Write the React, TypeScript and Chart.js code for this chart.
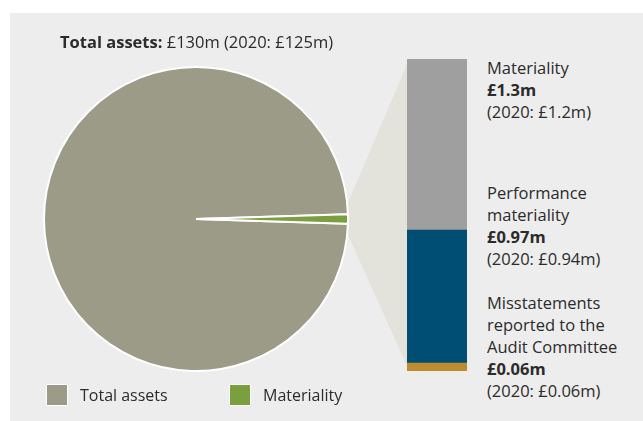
import React, { useEffect, useRef } from "react";
import { Chart, registerables } from "chart.js";

Chart.register(...registerables);

// ---- data ----
const pieLabels = ["Total assets", "Materiality"];
const pieValues = [130, 1.3]; // £m
const pieColors = ["#9c9b88", "#7a9f3e"];

// stacked bar (bottom to top), segment heights as drawn in the picture (not to scale with labels)
const barSeries = ["Misstatements", "Performance materiality", "Materiality"];
const barSegments = [0.033, 0.554, 0.713];
const barColors = ["#c08a2e", "#004e73", "#9f9f9f"];

const titleBold = "Total assets:";
const titleRest = " £130m (2020: £125m)";

const blockLines = [
  ["Materiality"],
  ["Performance", "materiality"],
  ["Misstatements", "reported to the", "Audit Committee"],
];
const blockValues = ["£1.3m", "£0.97m", "£0.06m"];
const blockPrior = ["(2020: £1.2m)", "(2020: £0.94m)", "(2020: £0.06m)"];
const blockTops = [57, 182, 292];

const FONT = "'Open Sans', sans-serif";

export default function App() {
  const pieRef = useRef<HTMLCanvasElement>(null);
  const barRef = useRef<HTMLCanvasElement>(null);

  useEffect(() => {
    const total = pieValues.reduce((a, b) => a + b, 0);
    const halfSlice = ((pieValues[1] / total) * 360) / 2;
    const pie = new Chart(pieRef.current!, {
      type: "pie",
      data: {
        labels: pieLabels,
        datasets: [
          {
            data: pieValues,
            backgroundColor: pieColors,
            borderColor: "#ffffff",
            borderWidth: 2,
          },
        ],
      },
      options: {
        animation: false,
        responsive: false,
        events: [],
        rotation: 90 + halfSlice,
        layout: { padding: 0 },
        plugins: { legend: { display: false }, tooltip: { enabled: false } },
      },
    });

    const connector = {
      id: "connector",
      beforeDatasetsDraw(chart: any) {
        const arc: any = pie.getDatasetMeta(0).data[1];
        const pr = pieRef.current!.getBoundingClientRect();
        const br = barRef.current!.getBoundingClientRect();
        const dx = pr.left - br.left;
        const dy = pr.top - br.top;
        const cx = arc.x + dx;
        const cy = arc.y + dy;
        const r = arc.outerRadius;
        const a = ((halfSlice * 2.3) * Math.PI) / 180;
        const bar: any = chart.getDatasetMeta(0).data[0];
        const topBar: any = chart.getDatasetMeta(2).data[0];
        const left = bar.x - bar.width / 2;
        const ctx = chart.ctx;
        ctx.save();
        ctx.fillStyle = "#e3e3dc";
        ctx.beginPath();
        ctx.moveTo(cx + r * Math.cos(a) - 2, cy - r * Math.sin(a));
        ctx.lineTo(left, topBar.y + 5);
        ctx.lineTo(left, bar.base - 5);
        ctx.lineTo(cx + r * Math.cos(a) - 2, cy + r * Math.sin(a));
        ctx.closePath();
        ctx.fill();
        ctx.restore();
      },
    };

    const bar = new Chart(barRef.current!, {
      type: "bar",
      data: {
        labels: [""],
        datasets: barSegments.map((v, i) => ({
          label: barSeries[i],
          data: [v],
          backgroundColor: barColors[i],
          borderWidth: 0,
          barPercentage: 1,
          categoryPercentage: 1,
        })),
      },
      options: {
        animation: false,
        responsive: false,
        events: [],
        layout: { padding: { left: 67, right: 13, top: 9, bottom: 9 } },
        scales: {
          x: { stacked: true, display: false },
          y: {
            stacked: true,
            display: false,
            min: 0,
            max: barSegments.reduce((a, b) => a + b, 0),
          },
        },
        plugins: { legend: { display: false }, tooltip: { enabled: false } },
      },
      plugins: [connector],
    });

    return () => {
      bar.destroy();
      pie.destroy();
    };
  }, []);

  const text: React.CSSProperties = {
    position: "absolute",
    fontFamily: FONT,
    fontSize: 16.5,
    lineHeight: "22px",
    color: "#2b2b2b",
    whiteSpace: "nowrap",
  };

  return (
    <div
      style={{
        position: "fixed",
        left: 0,
        top: 0,
        width: 643,
        height: 421,
        background: "#ffffff",
        overflow: "hidden",
      }}
    >
      <div
        style={{
          position: "absolute",
          left: 10,
          top: 13,
          width: 633,
          height: 408,
          background: "#ededed",
        }}
      />
      <canvas
        ref={barRef}
        width={140}
        height={330}
        style={{ position: "absolute", left: 340, top: 50, width: 140, height: 330 }}
      />
      <canvas
        ref={pieRef}
        width={306}
        height={306}
        style={{ position: "absolute", left: 43, top: 66, width: 306, height: 306 }}
      />
      <div style={{ ...text, left: 60, top: 31 }}>
        <b>{titleBold}</b>
        {titleRest}
      </div>
      {blockLines.map((lines, i) => (
        <div key={i} style={{ ...text, left: 487, top: blockTops[i] }}>
          {lines.map((l, j) => (
            <div key={j}>{l}</div>
          ))}
          <div style={{ fontWeight: 700 }}>{blockValues[i]}</div>
          <div>{blockPrior[i]}</div>
        </div>
      ))}
      {pieLabels.map((l, i) => (
        <React.Fragment key={l}>
          <div
            style={{
              position: "absolute",
              left: [46, 229][i],
              top: 384,
              width: 20,
              height: 20,
              background: pieColors[i],
              border: "1.5px solid #ffffff",
            }}
          />
          <div style={{ ...text, fontSize: 16, left: [80, 263][i], top: 384 }}>{l}</div>
        </React.Fragment>
      ))}
    </div>
  );
}
